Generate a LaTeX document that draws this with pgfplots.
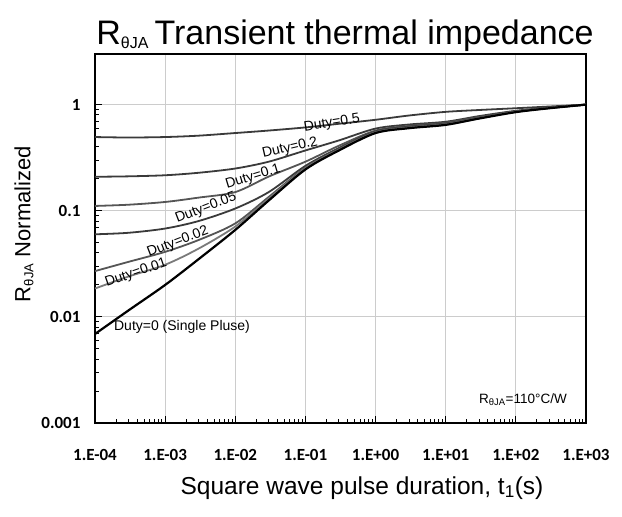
\documentclass[border=0pt]{standalone}
\usepackage{pgfplots}
\pgfplotsset{compat=1.18}
\usepackage{fontspec}
\setmainfont{Liberation Sans}
\newfontfamily\tickfont{Carlito}
\definecolor{cdark}{HTML}{3A3A3A}
\definecolor{cmid}{HTML}{555555}
\definecolor{cgrey}{HTML}{7A7A7A}
\begin{document}
\begin{tikzpicture}
\begin{axis}[
 at={(0,0)}, anchor=south west,
 scale only axis, width=491pt, height=369pt,
 xmode=log, ymode=log,
 xmin=1e-4, xmax=1e3, ymin=1e-3, ymax=3,
 xtick={1e-4,1e-3,1e-2,1e-1,1,10,100,1000},
 xticklabels={1.E-04,1.E-03,1.E-02,1.E-01,1.E+00,1.E+01,1.E+02,1.E+03},
 ytick={1e-3,1e-2,1e-1,1},
 yticklabels={0.001,0.01,0.1,1},
 ticklabel style={font=\tickfont\bfseries\fontsize{17}{19}\selectfont},
 xticklabel style={yshift=-23pt},
 yticklabel style={xshift=-11pt},
 tick align=inside, xtick pos=bottom, ytick pos=left,
 major tick length=7pt, minor tick length=4pt,
 every tick/.style={black, line width=1pt},
 grid=major, major grid style={draw=gray!40, line width=1.2pt},
 axis line style={line width=1.5pt, black},
 clip=true,
]
\addplot[smooth, color=cdark, line width=1.8pt] coordinates {
 (1e-4,0.495) (3e-4,0.49) (1e-3,0.495) (3e-3,0.51) (1e-2,0.54) (3e-2,0.57) (1e-1,0.61) (3e-1,0.66) (1,0.72) (3,0.79) (10,0.855) (30,0.89) (100,0.925) (300,0.96) (1000,1)};
\addplot[smooth, color=cdark, line width=1.8pt] coordinates {
 (1e-4,0.209) (3e-4,0.211) (1e-3,0.216) (3e-3,0.228) (1e-2,0.25) (3e-2,0.29) (1e-1,0.37) (3e-1,0.46) (1,0.595) (3,0.65) (10,0.69) (30,0.78) (100,0.875) (300,0.94) (1000,1)};
\addplot[smooth, color=cmid, line width=1.8pt] coordinates {
 (1e-4,0.111) (3e-4,0.114) (1e-3,0.121) (3e-3,0.133) (1e-2,0.150) (3e-2,0.21) (1e-1,0.29) (3e-1,0.41) (1,0.57) (3,0.63) (10,0.675) (30,0.765) (100,0.865) (300,0.935) (1000,1)};
\addplot[smooth, color=cdark, line width=1.8pt] coordinates {
 (1e-4,0.060) (3e-4,0.062) (1e-3,0.068) (3e-3,0.080) (1e-2,0.105) (3e-2,0.15) (1e-1,0.265) (3e-1,0.39) (1,0.56) (3,0.62) (10,0.665) (30,0.755) (100,0.86) (300,0.93) (1000,1)};
\addplot[smooth, color=cmid, line width=1.8pt] coordinates {
 (1e-4,0.027) (3e-4,0.033) (1e-3,0.041) (3e-3,0.053) (1e-2,0.076) (3e-2,0.135) (1e-1,0.255) (3e-1,0.38) (1,0.55) (3,0.61) (10,0.655) (30,0.75) (100,0.858) (300,0.93) (1000,1)};
\addplot[smooth, color=cgrey, line width=1.8pt] coordinates {
 (1e-4,0.0185) (3e-4,0.024) (1e-3,0.031) (3e-3,0.044) (1e-2,0.071) (3e-2,0.13) (1e-1,0.25) (3e-1,0.375) (1,0.545) (3,0.605) (10,0.65) (30,0.745) (100,0.855) (300,0.927) (1000,1)};
\addplot[smooth, color=black, line width=2.2pt] coordinates {
 (1e-4,0.0069) (3e-4,0.0115) (1e-3,0.020) (3e-3,0.035) (1e-2,0.066) (3e-2,0.125) (1e-1,0.245) (3e-1,0.37) (1,0.54) (3,0.60) (10,0.645) (30,0.74) (100,0.85) (300,0.925) (1000,1)};
\node[font=\fontsize{14}{16}\selectfont, rotate=9, inner sep=1pt] at (axis cs:0.239,0.667) {Duty=0.5};
\node[font=\fontsize{14}{16}\selectfont, rotate=13, inner sep=1pt] at (axis cs:0.0603,0.388) {Duty=0.2};
\node[font=\fontsize{14}{16}\selectfont, rotate=17, inner sep=1pt] at (axis cs:0.0179,0.207) {Duty=0.1};
\node[font=\fontsize{14}{16}\selectfont, rotate=21, inner sep=1pt] at (axis cs:0.00383,0.1057) {Duty=0.05};
\node[font=\fontsize{14}{16}\selectfont, rotate=21, inner sep=1pt] at (axis cs:0.00152,0.0505) {Duty=0.02};
\node[font=\fontsize{14}{16}\selectfont, rotate=19, inner sep=1pt] at (axis cs:0.000385,0.0258) {Duty=0.01};
\node[font=\fontsize{14}{16}\selectfont] at (axis cs:0.00174,0.0080) {Duty=0 (Single Pluse)};
\end{axis}
\node[font=\fontsize{13.5}{15}\selectfont] at (428pt,23pt) {R\textsubscript{θJA}=110°C/W};
\node[font=\fontsize{34}{38}\selectfont, anchor=base] at (250pt,378pt) {R\textsubscript{\fontsize{16}{17}\selectfont θJA}\,Transient thermal impedance};
\node[font=\fontsize{24.5}{28}\selectfont, anchor=base] at (267pt,-71pt) {Square wave pulse duration, t\textsubscript{1}(s)};
\node[font=\fontsize{22}{24}\selectfont, rotate=90] at (-71pt,199pt) {R\textsubscript{\fontsize{13}{14}\selectfont θJA}\;Normalized};
\pgfresetboundingbox
\path[use as bounding box] (-95pt,-94pt) rectangle (527pt,423pt);
\end{tikzpicture}
\end{document}
